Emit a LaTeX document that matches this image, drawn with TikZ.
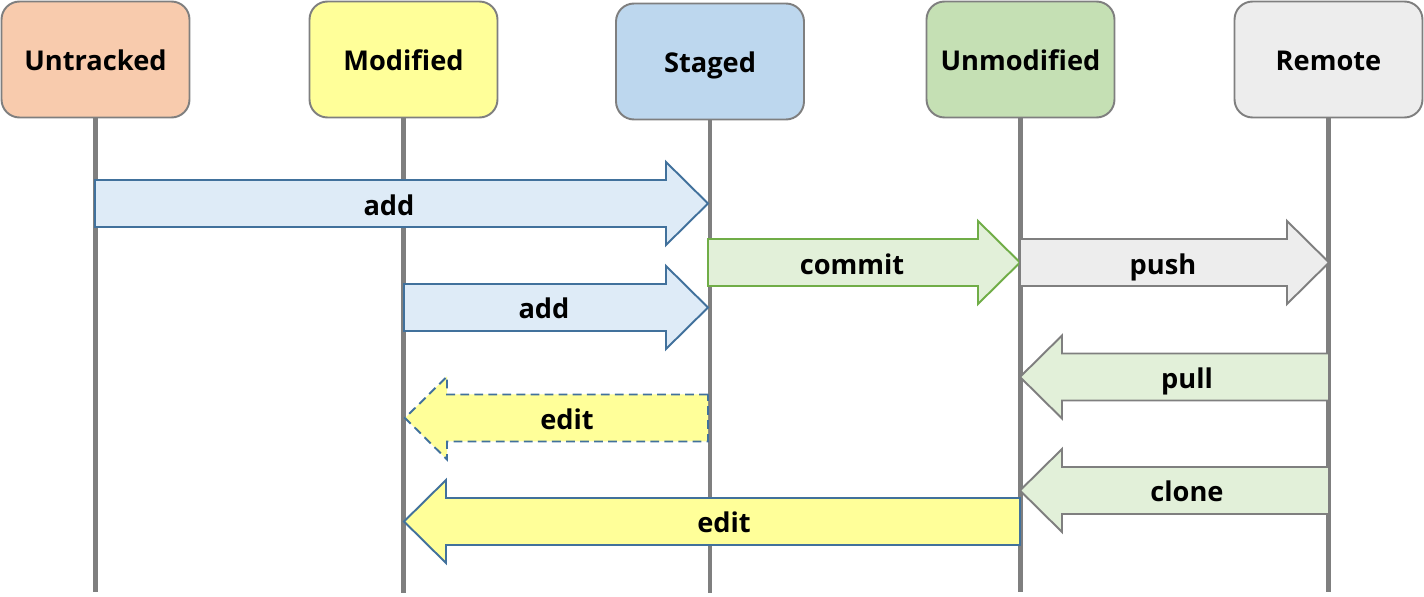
\documentclass[tikz,border=0pt]{standalone}
\usepackage{fontspec}
\setmainfont{Open Sans}
\usetikzlibrary{positioning}

\definecolor{linegray}{HTML}{7F7F7F}
\definecolor{untrackedfill}{HTML}{F8CBAD}
\definecolor{modifiedfill}{HTML}{FFFF99}
\definecolor{stagedfill}{HTML}{BDD7EE}
\definecolor{unmodifiedfill}{HTML}{C5E0B4}
\definecolor{remotefill}{HTML}{EDEDED}
\definecolor{addfill}{HTML}{DEEBF7}
\definecolor{addline}{HTML}{41719C}
\definecolor{commitfill}{HTML}{E2F0D9}
\definecolor{commitline}{HTML}{70AD47}

% block arrow: style, x from, x to (tip), y, direction (1 right, -1 left)
\newcommand{\blockarrow}[5]{%
  \draw[#1] (#2,#4-23.5) -- ({#3-42*#5},#4-23.5) -- ({#3-42*#5},#4-41.5)
    -- (#3,#4) -- ({#3-42*#5},#4+41.5) -- ({#3-42*#5},#4+23.5)
    -- (#2,#4+23.5) -- cycle;}

\begin{document}
\begin{tikzpicture}[x=0.02cm,y=-0.02cm,
    state/.style={draw=linegray, line width=1.1pt, rounded corners=0.36cm,
      minimum width=3.76cm, minimum height=2.32cm, text height=13pt, text depth=0.4pt,
      font=\bfseries\fontsize{15.5}{18}\selectfont},
    life/.style={draw=linegray, line width=2.3pt},
    barrow/.style={line width=1.1pt, line join=miter},
    lbl/.style={text height=12.6pt, text depth=0.4pt, font=\bfseries\fontsize{15.5}{18}\selectfont}]
  \useasboundingbox (0,0) rectangle (1424,597);

  % states
  \node[state, fill=untrackedfill] (untracked) at (95.5,59.5) {Untracked};
  \node[state, fill=modifiedfill] (modified) at (403.5,59.5) {Modified};
  \node[state, fill=stagedfill] (staged) at (710,61.5) {Staged};
  \node[state, fill=unmodifiedfill] (unmodified) at (1020.5,59.5) {Unmodified};
  \node[state, fill=remotefill] (remote) at (1328.5,59.5) {Remote};

  % lifelines
  \coordinate (untrackedEnd) at (95.5,592);
  \coordinate (modifiedEnd) at (403.5,593);
  \coordinate (stagedEnd) at (710,593);
  \coordinate (unmodifiedEnd) at (1020.5,592);
  \coordinate (remoteEnd) at (1328.5,592);
  \draw[life] (untracked.south) -- (untrackedEnd);
  \draw[life] (modified.south) -- (modifiedEnd);
  \draw[life] (staged.south) -- (stagedEnd);
  \draw[life] (unmodified.south) -- (unmodifiedEnd);
  \draw[life] (remote.south) -- (remoteEnd);

  % arrows
  \blockarrow{barrow, draw=addline, fill=addfill}{95}{708}{203.5}{1}
  \node[lbl] (addA) at (389,205) {add};
  \blockarrow{barrow, draw=commitline, fill=commitfill}{708}{1020}{262.5}{1}
  \node[lbl] (commit) at (852,264) {commit};
  \blockarrow{barrow, draw=linegray, fill=remotefill}{1020}{1329}{262.5}{1}
  \node[lbl] (push) at (1163,264) {push};
  \blockarrow{barrow, draw=addline, fill=addfill}{404}{708}{307.5}{1}
  \node[lbl] (addB) at (544,308) {add};
  \blockarrow{barrow, draw=linegray, fill=commitfill}{1329}{1020}{377}{-1}
  \node[lbl] (pull) at (1187,378) {pull};
  \blockarrow{barrow, dashed, dash pattern=on 5pt off 3pt, draw=addline, fill=modifiedfill}{708}{405}{418}{-1}
  \node[lbl] (editA) at (567,419) {edit};
  \blockarrow{barrow, draw=linegray, fill=commitfill}{1329}{1020}{490.5}{-1}
  \node[lbl] (clone) at (1187,491) {clone};
  \blockarrow{barrow, draw=addline, fill=modifiedfill}{1020}{404}{521.5}{-1}
  \node[lbl] (editB) at (724,522) {edit};
\end{tikzpicture}
\end{document}
